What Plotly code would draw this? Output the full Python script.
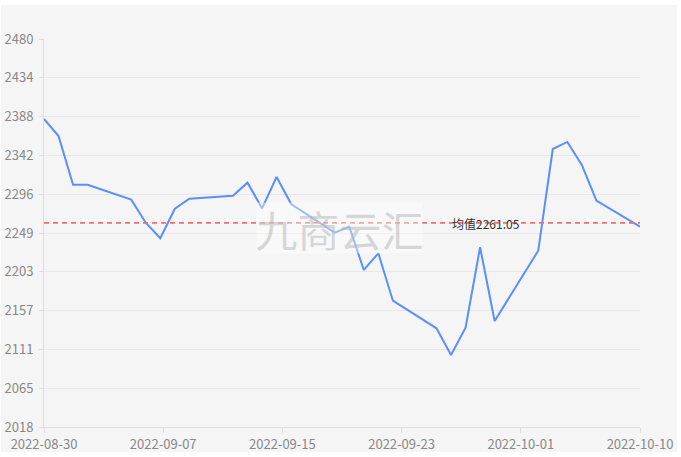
import plotly.graph_objects as go
from datetime import datetime

dates = ["2022-08-30", "2022-08-31", "2022-09-01", "2022-09-02", "2022-09-05",
         "2022-09-06", "2022-09-07", "2022-09-08", "2022-09-09", "2022-09-12",
         "2022-09-13", "2022-09-14", "2022-09-15", "2022-09-16", "2022-09-19",
         "2022-09-20", "2022-09-21", "2022-09-22", "2022-09-23", "2022-09-26",
         "2022-09-27", "2022-09-28", "2022-09-29", "2022-09-30", "2022-10-03",
         "2022-10-04", "2022-10-05", "2022-10-06", "2022-10-07", "2022-10-10"]
values = [2384.8, 2364.5, 2306.5, 2306.5, 2288.7,
          2261.3, 2242.7, 2277.9, 2289.9, 2293.4,
          2308.9, 2278.4, 2315.7, 2283.5, 2249.4,
          2256.5, 2205.0, 2224.8, 2168.4, 2135.5,
          2103.7, 2136.2, 2232.0, 2144.2, 2227.9,
          2349.0, 2357.4, 2330.0, 2287.5, 2256.5]
mean_value = 2261.05
mean_label = "均值2261.05"
watermark = "九商云汇"

y_min, y_max = 2018, 2480
y_tick_labels = ["2018", "2065", "2111", "2157", "2203", "2249", "2296", "2342", "2388", "2434", "2480"]
x_tick_labels = ["2022-08-30", "2022-09-07", "2022-09-15", "2022-09-23", "2022-10-01", "2022-10-10"]
x_start, x_end = "2022-08-30", "2022-10-10"

# evenly split tick positions
y_step = (y_max - y_min) / (len(y_tick_labels) - 1)
y_tick_vals = [y_min + i * y_step for i in range(len(y_tick_labels))]
t0 = datetime.fromisoformat(x_start)
t1 = datetime.fromisoformat(x_end)
n = len(x_tick_labels) - 1
x_tick_vals = [t0 + (t1 - t0) * i / n for i in range(n + 1)]

font_family = "Noto Sans CJK SC, Noto Sans, sans-serif"

fig = go.Figure()
fig.add_trace(go.Scatter(
    x=dates, y=values, mode="lines",
    line=dict(color="#5B8FF9", width=2),
    hoverinfo="x+y", showlegend=False,
))

W, H = 681, 457
L, R, T, B = 44, 41, 39, 30
pw, ph = W - L - R, H - T - B

def px_x(px):
    return (px - L) / pw

def px_y(py):
    return (H - B - py) / ph

shapes = [
    dict(type="rect", xref="paper", yref="paper",
         x0=px_x(1), x1=px_x(677), y0=px_y(452), y1=px_y(5),
         fillcolor="#f5f5f5", line=dict(width=0), layer="below"),
    dict(type="line", xref="paper", yref="y", x0=0, x1=1,
         y0=mean_value, y1=mean_value,
         line=dict(color="#f56c6c", width=1.6, dash="5px,4px")),
]

annotations = [
    dict(text=mean_label, xref="paper", yref="y", x=px_x(486), y=mean_value,
         showarrow=False, font=dict(family=font_family, size=12, color="#333333"),
         xanchor="center", yanchor="middle", yshift=-1),
    dict(text=watermark, xref="paper", yref="paper", x=px_x(339.5), y=px_y(228),
         showarrow=False, font=dict(family=font_family, size=42, color="rgba(180,180,180,0.5)"),
         bgcolor="rgba(255,255,255,0.4)", xanchor="center", yanchor="middle",
         borderpad=0, width=165, height=50),
]

fig.update_layout(
    width=W, height=H,
    margin=dict(l=L, r=R, t=T, b=B, pad=0, autoexpand=False),
    paper_bgcolor="#ffffff",
    plot_bgcolor="rgba(0,0,0,0)",
    font=dict(family=font_family, size=12, color="#888888"),
    shapes=shapes,
    annotations=annotations,
    xaxis=dict(
        type="date", range=[x_start, x_end], automargin=False,
        tickmode="array", tickvals=x_tick_vals, ticktext=x_tick_labels,
        showgrid=False, zeroline=False,
        showline=True, linecolor="#dddddd", linewidth=1,
        ticks="outside", ticklen=5, tickcolor="#dddddd",
        tickfont=dict(size=13, color="#888888"),
        fixedrange=True,
    ),
    yaxis=dict(
        range=[y_min, y_max], automargin=False,
        tickmode="array", tickvals=y_tick_vals, ticktext=y_tick_labels,
        showgrid=True, gridcolor="#e8e8e8", gridwidth=1,
        zeroline=False,
        showline=True, linecolor="#dddddd", linewidth=1,
        ticks="outside", ticklen=4, tickcolor="#dddddd",
        ticklabelstandoff=3,
        tickfont=dict(size=13, color="#888888"),
        fixedrange=True,
    ),
)

fig.write_html("out.html", config={"displayModeBar": False},
               post_script="document.body.style.margin='0px';document.body.style.overflow='hidden';")
